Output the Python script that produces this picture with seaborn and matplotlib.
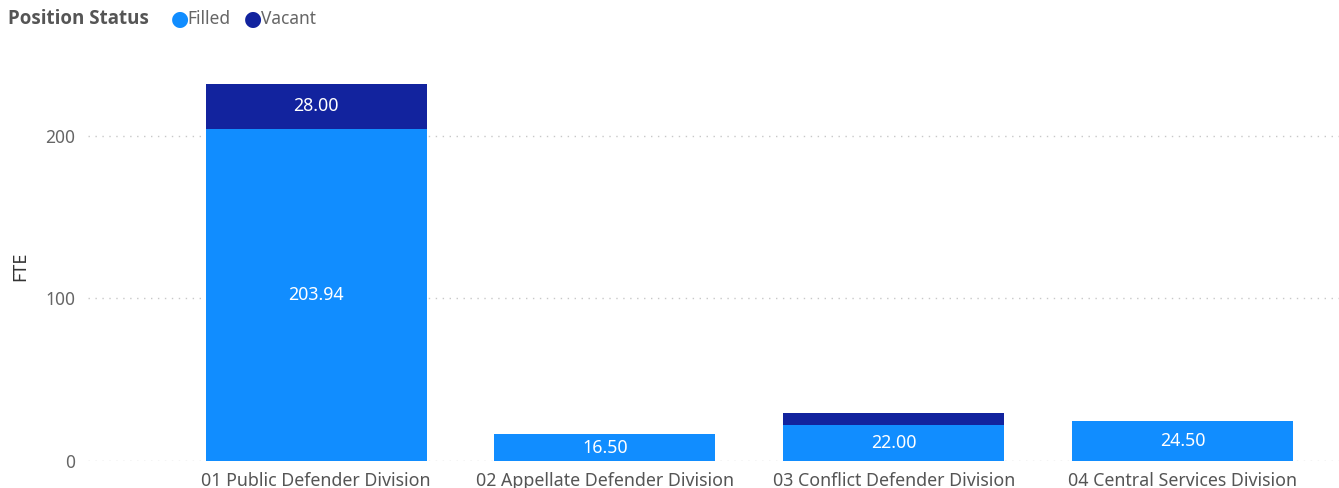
import matplotlib
matplotlib.use("Agg")
import matplotlib.pyplot as plt
import seaborn as sns
import pandas as pd
import numpy as np

categories = ["01 Public Defender Division", "02 Appellate Defender Division",
              "03 Conflict Defender Division", "04 Central Services Division"]
filled = [203.94, 16.50, 22.00, 24.50]
vacant = [28.00, 0.0, 7.50, 0.0]
filled_labels = ["203.94", "16.50", "22.00", "24.50"]
vacant_labels = ["28.00", "", "", ""]
yticks = [0, 100, 200]

FILLED_C = "#118DFF"
VACANT_C = "#12239E"

sns.set_theme(style="white")
plt.rcParams['font.family'] = ['Noto Sans', 'DejaVu Sans']

df = pd.DataFrame({"cat": categories, "filled": filled, "vacant": vacant})
df["total"] = df["filled"] + df["vacant"]

fig = plt.figure(figsize=(13.39, 4.88), dpi=100)
ax = fig.add_axes([0.0657, 0.0553, 0.934, 0.80])

sns.barplot(data=df, x="cat", y="total", color=VACANT_C, width=0.765,
            saturation=1, ax=ax, linewidth=0, zorder=3)
sns.barplot(data=df, x="cat", y="filled", color=FILLED_C, width=0.765,
            saturation=1, ax=ax, linewidth=0, zorder=4)

ax.set_xlim(-0.79, 3.54)
ax.set_ylim(0, 240)
ax.set_yticks(yticks)
ax.set_yticklabels([str(t) for t in yticks], fontsize=12.5, color="#666666")
ax.tick_params(axis="y", length=0, pad=9)
ax.tick_params(axis="x", length=0, pad=8, labelsize=12.8, labelcolor="#555555")
ax.set_xlabel("")
ax.set_ylabel("FTE", fontsize=13, color="#333333", labelpad=12)
for s in ax.spines.values():
    s.set_visible(False)
ax.grid(False)
for t in yticks:
    ax.axhline(t, color="#C8C8C8", linestyle=(0, (1, 4)), linewidth=1, zorder=1)

for i, (f, v) in enumerate(zip(filled, vacant)):
    if filled_labels[i]:
        ax.text(i, f / 2, filled_labels[i], ha="center", va="center",
                color="white", fontsize=12.8, zorder=6)
    if vacant_labels[i]:
        ax.text(i, f + v / 2, vacant_labels[i], ha="center", va="center",
                color="white", fontsize=12.8, zorder=6)

# legend
ly = 1 - 19 / 488
fig.text(8 / 1339, ly, "Position Status", fontsize=13.5, fontweight="bold",
         family=["Open Sans", "Lato", "DejaVu Sans"],
         color="#555555", ha="left", va="center")
fig.text(171 / 1339, ly, "\u25CF", fontsize=15, color=FILLED_C, ha="left", va="center",
         family=["DejaVu Sans"])
fig.text(187 / 1339, ly, "Filled", fontsize=12.5, color="#666666", ha="left", va="center")
fig.text(244 / 1339, ly, "\u25CF", fontsize=15, color=VACANT_C, ha="left", va="center",
         family=["DejaVu Sans"])
fig.text(261 / 1339, ly, "Vacant", fontsize=12.5, color="#666666", ha="left", va="center")

fig.savefig("out.png", dpi=100)
